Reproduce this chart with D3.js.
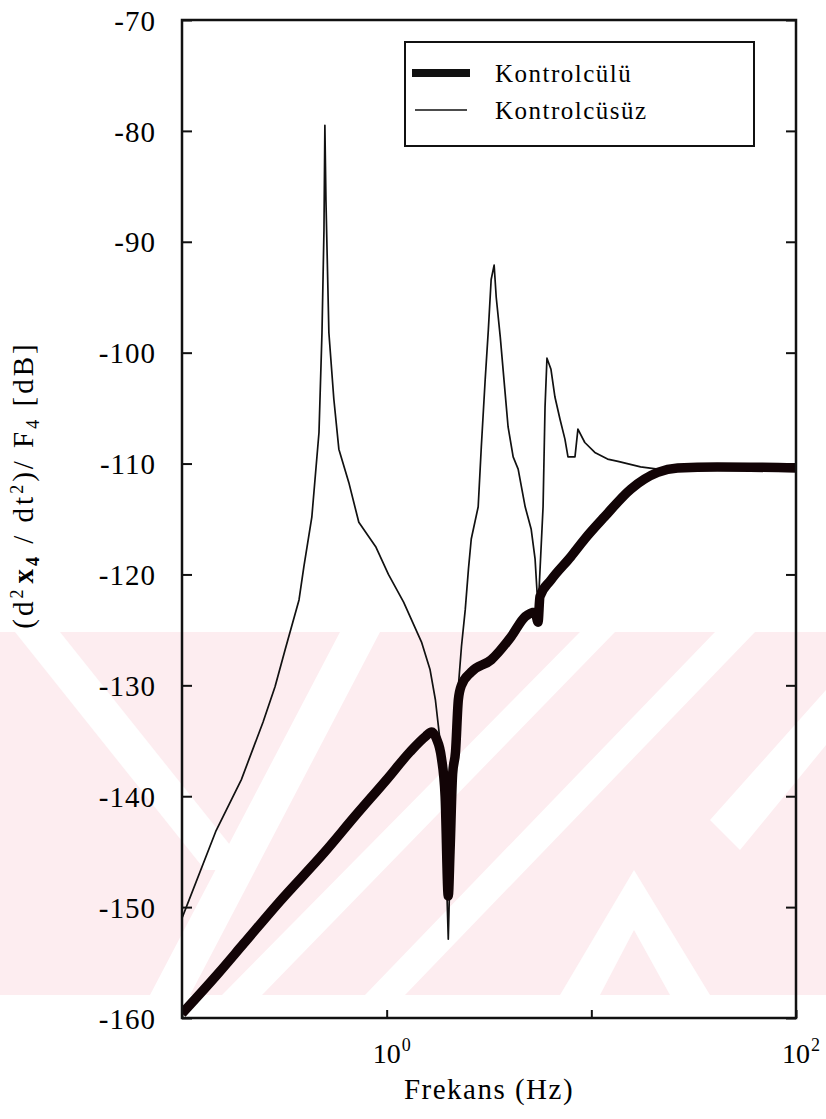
<!DOCTYPE html>
<html>
<head>
<meta charset="utf-8">
<script src="https://cdn.jsdelivr.net/npm/d3@7"></script>
<style>
  body { margin: 0; background: #fff; }
  svg { display: block; }
  text { font-family: "Liberation Serif", "DejaVu Serif", serif; fill: #000; }
  .axis path { display: none; }
  .axis line { stroke: #111; stroke-width: 2; }
</style>
</head>
<body>
<script>
// frequency (Hz) and response (dB)
var thinFreq = [0.1, 0.146, 0.195, 0.249, 0.285, 0.319, 0.373, 0.394, 0.431, 0.467, 0.483, 0.494, 0.499,
  0.505, 0.522, 0.552, 0.584, 0.653, 0.731, 0.884, 1.02, 1.21, 1.48, 1.63, 1.73, 1.79, 1.85, 1.95, 2.0,
  2.05, 2.12, 2.24, 2.32, 2.42, 2.51, 2.59, 2.80, 2.90, 3.03, 3.14, 3.24, 3.35, 3.43, 3.59, 3.79, 3.92,
  4.15, 4.39, 4.75, 5.08, 5.31, 5.43, 5.55, 5.81, 5.94, 6.07, 6.35, 6.64, 7.03, 7.43, 7.69, 8.32, 8.60,
  9.29, 10.4, 12.0, 13.5, 17.4, 21.1, 22.8, 30.5, 100];
var thinDb = [-151, -143.2, -138.5, -133.3, -130.1, -126.8, -122.3, -119.3, -114.8, -107.2, -98.2, -88.9, -79.5,
  -86.2, -98.2, -104.2, -108.7, -111.7, -115.3, -117.5, -120.0, -122.5, -126.1, -128.6, -131.3, -133.7, -136.0, -146, -152.9,
  -145, -138, -130.1, -126.5, -123.2, -119.5, -116.8, -113.9, -108.5, -102.4, -97.9, -93.4, -92.1, -95.0, -98.6, -103.6, -106.7,
  -109.4, -110.5, -113.9, -115.9, -118.6, -121.6, -121.5, -113.9, -104.9, -100.5, -101.5, -104.0, -106.0, -107.8, -109.4, -109.4, -106.9,
  -108.1, -109.0, -109.6, -109.8, -110.3, -110.5, -110.5, -110.4, -110.4];

var thickFreq = [0.1, 0.15, 0.2, 0.3, 0.5, 0.7, 1.0, 1.3, 1.55, 1.66, 1.75, 1.85, 1.93, 2.0, 2.04, 2.1,
  2.17, 2.24, 2.32, 2.59, 3.24, 4.06, 4.75, 5.31, 5.49, 5.61, 6.35, 7.94, 9.29, 11.6, 15.6, 21.1, 26.4, 41.3, 100];
var thickDb = [-159.6, -156, -153.3, -149.5, -145, -141.8, -138.5, -136, -134.6, -134.2, -134.8, -136.5, -140, -149, -145, -138,
  -136, -131.3, -130.0, -128.8, -127.7, -125.6, -123.8, -123.4, -124.3, -122.0, -120.5, -118.4, -116.8, -114.8, -112.3, -110.8, -110.4, -110.3, -110.4];

var yTicks = d3.range(-160, -69, 10);
var xTicks = [0.1, 1, 10, 100];
var xLabels = [{v: 1, exp: "0"}, {v: 100, exp: "2"}];
var legendNames = ["Kontrolcülü", "Kontrolcüsüz"];

var W = 826, H = 1119;
var mLeft = 182, mRight = 796, mTop = 20, mBottom = 1018;

var svg = d3.select("body").append("svg").attr("width", W).attr("height", H);

// watermark band behind the plot
var bandTop = 632, bandBot = 995;
svg.append("clipPath").attr("id", "band")
  .append("rect").attr("x", 0).attr("y", bandTop).attr("width", W).attr("height", bandBot - bandTop);
var wmg = svg.append("g").attr("clip-path", "url(#band)");
wmg.append("rect").attr("x", 0).attr("y", bandTop).attr("width", W).attr("height", bandBot - bandTop).attr("fill", "#fdedf0");
// white diagonal gaps
var gaps = [
  [[15, 632], [60, 632], [250, 870], [205, 870]],
  [[340, 632], [380, 632], [190, 995], [150, 995]],
  [[580, 632], [615, 632], [262, 995], [222, 995]],
  [[715, 632], [755, 632], [405, 995], [365, 995]],
  [[634, 870], [710, 995], [670, 995], [634, 930], [600, 995], [560, 995]],
  [[826, 690], [826, 745], [740, 850], [710, 820]]
];
gaps.forEach(function(g) {
  wmg.append("polygon").attr("points", g.map(function(p) { return p.join(","); }).join(" ")).attr("fill", "#fff");
});

var x = d3.scaleLog().domain([0.1, 100]).range([mLeft, mRight]);
var y = d3.scaleLinear().domain([-160, -70]).range([mBottom, mTop]);

svg.append("clipPath").attr("id", "plot")
  .append("rect").attr("x", mLeft).attr("y", mTop).attr("width", mRight - mLeft).attr("height", mBottom - mTop);

// axes (ticks point inwards)
svg.append("g").attr("class", "axis").attr("transform", "translate(" + mLeft + ",0)")
  .call(d3.axisLeft(y).tickValues(yTicks).tickSize(-10).tickPadding(26).tickFormat(function(d) { return String(d); }))
  .selectAll("text").style("font-size", "29px").style("letter-spacing", "1px").attr("dy", "0.35em");
svg.append("g").attr("class", "axis").attr("transform", "translate(" + mRight + ",0)")
  .call(d3.axisRight(y).tickValues(yTicks).tickSize(-10).tickFormat(""));
svg.append("g").attr("class", "axis").attr("transform", "translate(0," + mBottom + ")")
  .call(d3.axisBottom(x).tickValues(xTicks).tickSize(-8).tickFormat(""));

xLabels.forEach(function(d) {
  var t = svg.append("text").attr("x", x(d.v) - 14).attr("y", 1063).style("font-size", "28px");
  t.append("tspan").text("10");
  t.append("tspan").attr("dy", -12).attr("dx", 1).style("font-size", "18px").text(d.exp);
});

svg.append("text").attr("x", 489).attr("y", 1099).attr("text-anchor", "middle")
  .style("font-size", "29px").style("letter-spacing", "1.5px").text("Frekans (Hz)");

var yl = svg.append("text").attr("transform", "translate(33,485) rotate(-90)")
  .attr("text-anchor", "middle").style("font-size", "29px").style("letter-spacing", "3px");
yl.append("tspan").text("(d");
yl.append("tspan").attr("dy", -10).style("font-size", "18px").text("2");
yl.append("tspan").attr("dy", 10).attr("dx", 3).style("font-weight", "bold").text("x");
yl.append("tspan").attr("dy", 6).style("font-size", "18px").style("font-weight", "bold").text("4");
yl.append("tspan").attr("dy", -6).text(" / dt");
yl.append("tspan").attr("dy", -10).style("font-size", "18px").text("2");
yl.append("tspan").attr("dy", 10).text(")/ F");
yl.append("tspan").attr("dy", 6).style("font-size", "18px").text("4");
yl.append("tspan").attr("dy", -6).text("  [dB]");

// curves
var thinLine = d3.line().x(function(d) { return x(d[0]); }).y(function(d) { return y(d[1]); });
var thickLine = d3.line().x(function(d) { return x(d[0]); }).y(function(d) { return y(d[1]); }).curve(d3.curveMonotoneX);
var thin = d3.zip(thinFreq, thinDb);
var thick = d3.zip(thickFreq, thickDb);

var plot = svg.append("g").attr("clip-path", "url(#plot)");
plot.append("path").datum(thin).attr("d", thinLine)
  .attr("fill", "none").attr("stroke", "#111").attr("stroke-width", 1.7).attr("stroke-linejoin", "round");
plot.append("path").datum(thick).attr("d", thickLine)
  .attr("fill", "none").attr("stroke", "#120406").attr("stroke-width", 9.5).attr("stroke-linejoin", "round");

// frame
svg.append("rect").attr("x", mLeft).attr("y", mTop).attr("width", mRight - mLeft).attr("height", mBottom - mTop)
  .attr("fill", "none").attr("stroke", "#111").attr("stroke-width", 2.5);

// legend
var lg = svg.append("g");
lg.append("rect").attr("x", 405).attr("y", 42).attr("width", 349).attr("height", 104)
  .attr("fill", "#fff").attr("stroke", "#111").attr("stroke-width", 2);
lg.append("line").attr("x1", 412).attr("x2", 470).attr("y1", 73).attr("y2", 73)
  .attr("stroke", "#111").attr("stroke-width", 8);
lg.append("line").attr("x1", 415).attr("x2", 467).attr("y1", 110).attr("y2", 110)
  .attr("stroke", "#111").attr("stroke-width", 1.6);
legendNames.forEach(function(n, i) {
  lg.append("text").attr("x", 495).attr("y", 82 + i * 37).style("font-size", "25px")
    .style("letter-spacing", "1.5px").text(n);
});
</script>
</body>
</html>
